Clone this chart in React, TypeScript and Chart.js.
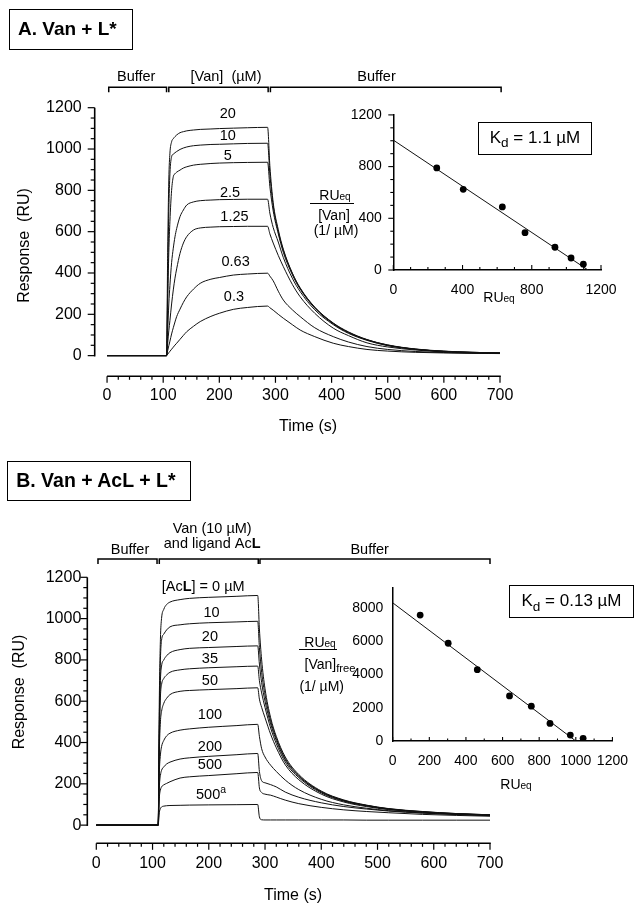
import React, { useEffect, useRef } from 'react';
import { Chart, registerables } from 'chart.js';

Chart.register(...registerables);

const FONT = '"Liberation Sans", Arial, Helvetica, sans-serif';
const INK = '#111111';

// ======================= Panel A : Van + L* =======================
const TIME_A = [0, 106, 108, 110, 112, 115, 118, 121, 124, 130, 136, 142, 154, 166, 185, 200, 225, 250, 286,
  290, 296, 305, 314, 330, 344, 370, 403, 430, 463, 500, 550, 600, 650, 700];
const VAN_LABELS = ['20', '10', '5', '2.5', '1.25', '0.63', '0.3'];
const RU_VAN_20 = [0, 0, 500, 850, 980, 1035, 1050, 1060, 1068, 1079, 1084, 1088, 1092, 1095, 1097, 1099, 1101, 1103, 1105,
  920, 740, 610, 515, 400, 328, 235, 158, 115, 78, 52, 32, 22, 16, 13];
const RU_VAN_10 = [0, 0, 350, 700, 880, 963, 975, 982, 988, 998, 1005, 1010, 1016, 1019, 1022, 1023, 1025, 1027, 1028,
  880, 725, 600, 510, 398, 325, 233, 156, 113, 77, 51, 31, 21, 16, 13];
const RU_VAN_5 = [0, 0, 250, 500, 650, 800, 866, 880, 888, 898, 908, 914, 922, 926, 930, 932, 934, 935, 936,
  820, 700, 590, 500, 392, 322, 230, 154, 111, 76, 50, 31, 21, 16, 13];
const RU_VAN_2_5 = [0, 0, 120, 250, 340, 450, 520, 575, 615, 673, 705, 729, 744, 750, 753, 755, 756, 757, 757,
  690, 620, 550, 475, 375, 310, 222, 150, 108, 74, 48, 30, 20, 15, 12];
const RU_VAN_1_25 = [0, 0, 60, 120, 170, 250, 318, 375, 420, 495, 545, 576, 608, 618, 622, 624, 625, 626, 626,
  590, 545, 485, 431, 345, 285, 205, 133, 97, 62, 42, 27, 18, 14, 12];
const RU_VAN_0_63 = [0, 0, 24, 48, 70, 105, 135, 163, 189, 225, 258, 285, 322, 350, 370, 378, 390, 395, 399,
  385, 362, 312, 269, 222, 189, 135, 92, 66, 44, 30, 20, 15, 12, 11];
const RU_VAN_0_3 = [0, 0, 7, 14, 21, 31, 41, 51, 60, 79, 98, 116, 142, 165, 190, 205, 224, 233, 240,
  232, 220, 200, 181, 150, 124, 92, 60, 44, 30, 22, 16, 13, 11, 10];
const LABEL_T_A = [215, 215, 215, 219, 227, 229, 226];
const LABEL_RU_A = [1169, 1063, 966, 789, 672, 455, 283];
const PHASE_START_A = [3, 110, 291];
const PHASE_END_A = [106, 287, 702];
const PHASE_LABEL_A = [['Buffer'], ['[Van]  (µM)'], ['Buffer']];
const PHASE_LABEL_T_A = [52, 212, 480];

// Scatchard inset A
const SCAT_A_RU = [251, 404, 630, 761, 934, 1027, 1098];
const SCAT_A_RATIO = [790, 624, 488, 289, 176, 93, 45];
const FIT_A_RU = [0, 1125];
const FIT_A_RATIO = [1005, 0];

// ======================= Panel B : Van + AcL + L* =======================
const TIME_B = [0, 110, 112, 114, 116, 120, 125, 131, 149, 166, 200, 250, 287,
  290, 294, 300, 310, 320, 336, 360, 400, 440, 480, 520, 580, 640, 700];
const ACL_LABELS = ['[Ac**L**] = 0 µM', '10', '20', '35', '50', '100', '200', '500', '500^{a}'];
const RU_ACL_0 = [0, 0, 600, 900, 1000, 1045, 1068, 1080, 1092, 1098, 1103, 1108, 1112,
  950, 800, 660, 520, 430, 330, 245, 165, 122, 97, 80, 66, 56, 50];
const RU_ACL_10 = [0, 0, 500, 800, 895, 925, 945, 960, 970, 975, 980, 984, 987,
  860, 740, 630, 505, 420, 322, 240, 162, 120, 96, 79, 65, 56, 50];
const RU_ACL_20 = [0, 0, 450, 700, 770, 800, 820, 835, 850, 856, 860, 865, 868,
  780, 690, 600, 490, 410, 315, 236, 160, 118, 95, 78, 64, 55, 49];
const RU_ACL_35 = [0, 0, 400, 620, 680, 710, 727, 740, 752, 757, 762, 767, 770,
  700, 640, 570, 470, 395, 305, 230, 156, 116, 93, 77, 63, 54, 49];
const RU_ACL_50 = [0, 0, 350, 500, 550, 590, 614, 632, 648, 652, 656, 661, 665,
  610, 570, 520, 440, 375, 292, 220, 150, 112, 90, 75, 62, 54, 48];
const RU_ACL_100 = [0, 0, 250, 340, 380, 410, 432, 445, 460, 466, 474, 482, 488,
  430, 370, 330, 290, 260, 218, 172, 125, 98, 82, 70, 59, 52, 47];
const RU_ACL_200 = [0, 0, 180, 240, 265, 282, 296, 305, 320, 326, 333, 341, 347,
  260, 215, 205, 196, 185, 160, 135, 108, 90, 78, 68, 58, 51, 46];
const RU_ACL_500 = [0, 0, 130, 170, 185, 195, 202, 210, 228, 234, 240, 249, 255,
  180, 158, 150, 145, 136, 121, 104, 86, 74, 66, 60, 52, 47, 43];
const RU_ACL_500A = [0, 0, 60, 80, 88, 92, 94, 95, 96, 97, 98, 99, 100,
  40, 26, 25, 25, 25, 25, 25, 25, 25, 24, 24, 24, 24, 24];
const LABEL_T_B = [190, 205, 202, 202, 202, 202, 202, 202, 204];
const LABEL_RU_B = [1152, 1026, 912, 804, 699, 533, 379, 291, 145];
const PHASE_START_B = [3, 112, 291];
const PHASE_END_B = [108, 288, 700];
const PHASE_LABEL_B = [['Buffer'], ['Van (10 µM)', 'and ligand Ac**L**'], ['Buffer']];
const PHASE_LABEL_T_B = [60, 206, 486];

// Scatchard inset B
const SCAT_B_RU = [150, 303, 462, 638, 757, 859, 970, 1040];
const SCAT_B_RATIO = [7564, 5869, 4281, 2704, 2090, 1057, 358, 161];
const FIT_B_RU = [0, 1000];
const FIT_B_RATIO = [8300, 0];

// tick values
const MAIN_X_TICKS = [0, 100, 200, 300, 400, 500, 600, 700];
const MAIN_Y_TICKS = [0, 200, 400, 600, 800, 1000, 1200];
const INSET_A_TICKS = [0, 400, 800, 1200];
const INSET_B_X_TICKS = [0, 200, 400, 600, 800, 1000, 1200];
const INSET_B_Y_TICKS = [0, 2000, 4000, 6000, 8000];

// ======================= helpers =======================
function steps(a: number, b: number, s: number) {
  const r: number[] = [];
  for (let v = a; v <= b + 1e-9; v += s) r.push(v);
  return r;
}
const plain = (v: any) => `${v}`;

type Part = { t: string; b?: boolean; sup?: boolean; sub?: boolean };
function parseRich(s: string): Part[] {
  const out: Part[] = [];
  const re = /\*\*(.+?)\*\*|\^\{(.+?)\}|_\{(.+?)\}/g;
  let last = 0;
  let m: RegExpExecArray | null;
  while ((m = re.exec(s))) {
    if (m.index > last) out.push({ t: s.slice(last, m.index) });
    if (m[1]) out.push({ t: m[1], b: true });
    else if (m[2]) out.push({ t: m[2], sup: true });
    else if (m[3]) out.push({ t: m[3], sub: true });
    last = re.lastIndex;
  }
  if (last < s.length) out.push({ t: s.slice(last) });
  return out;
}
function drawRich(ctx: CanvasRenderingContext2D, s: string, cx: number, cy: number, size: number) {
  const parts = parseRich(s);
  const fontOf = (p: Part) => `${p.b ? 'bold ' : ''}${p.sup || p.sub ? size * 0.72 : size}px ${FONT}`;
  let w = 0;
  for (const p of parts) { ctx.font = fontOf(p); w += ctx.measureText(p.t).width; }
  let x = cx - w / 2;
  ctx.textBaseline = 'middle';
  ctx.textAlign = 'left';
  ctx.fillStyle = '#000';
  for (const p of parts) {
    ctx.font = fontOf(p);
    const dy = p.sup ? -size * 0.32 : p.sub ? size * 0.25 : 0;
    ctx.fillText(p.t, x, cy + dy);
    x += ctx.measureText(p.t).width;
  }
}
function seg(ctx: CanvasRenderingContext2D, x0: number, y0: number, x1: number, y1: number) {
  ctx.beginPath(); ctx.moveTo(x0, y0); ctx.lineTo(x1, y1); ctx.stroke();
}

// ======================= main sensorgram chart =======================
function mainConfig(spec: any) {
  const drawDecor = (chart: any) => {
    const ctx: CanvasRenderingContext2D = chart.ctx;
    const xs = chart.scales.x, ys = chart.scales.y, ca = chart.chartArea;
    const X = (v: number) => xs.getPixelForValue(v);
    const Y = (v: number) => ys.getPixelForValue(v);
    ctx.save();
    ctx.strokeStyle = '#000';
    // axis lines (detached, as in the original figure)
    ctx.lineWidth = 1.6;
    seg(ctx, ca.left, Y(0) + 0.8, ca.left, Y(1200));
    seg(ctx, X(0), ca.bottom, X(700) + 0.8, ca.bottom);
    // ticks
    ctx.lineWidth = 1.2;
    for (const v of steps(0, 1200, 50)) {
      const major = v % 200 === 0;
      seg(ctx, ca.left, Y(v), ca.left - (major ? 7 : 4), Y(v));
    }
    for (const v of steps(0, 700, 20)) {
      const major = v % 100 === 0;
      seg(ctx, X(v), ca.bottom, X(v), ca.bottom + (major ? 6.5 : 3.5));
    }
    // phase brackets
    const by = ca.top - spec.bracketLift;
    ctx.lineWidth = 1.5;
    spec.phaseStart.forEach((s: number, i: number) => {
      const x0 = X(s), x1 = X(spec.phaseEnd[i]);
      ctx.beginPath();
      ctx.moveTo(x0, by + 5); ctx.lineTo(x0, by); ctx.lineTo(x1, by); ctx.lineTo(x1, by + 5);
      ctx.stroke();
      const lines: string[] = spec.phaseLabel[i];
      lines.forEach((ln: string, j: number) => {
        const lift = spec.phaseLift[i] + (lines.length - 1 - j) * 15;
        drawRich(ctx, ln, X(spec.phaseLabelT[i]), by - lift, 14.5);
      });
    });
    // curve labels
    spec.labels.forEach((lab: string, i: number) => {
      drawRich(ctx, lab, X(spec.labelT[i]), Y(spec.labelRU[i]), 14.5);
    });
    // axis titles
    ctx.fillStyle = '#000';
    ctx.font = `16px ${FONT}`;
    ctx.textAlign = 'center';
    ctx.textBaseline = 'middle';
    ctx.fillText('Time (s)', spec.xTitle[0], spec.xTitle[1]);
    ctx.save();
    ctx.translate(spec.yTitle[0], spec.yTitle[1]);
    ctx.rotate(-Math.PI / 2);
    ctx.fillText('Response  (RU)', 0, 0);
    ctx.restore();
    ctx.restore();
  };
  return {
    type: 'line',
    data: {
      datasets: spec.series.map((vals: number[]) => ({
        data: vals.map((v, i) => ({ x: spec.time[i], y: v })),
        borderColor: INK,
        borderWidth: 1,
        pointRadius: 0,
        fill: false,
        cubicInterpolationMode: 'monotone',
      })),
    },
    options: {
      responsive: false,
      maintainAspectRatio: false,
      animation: false,
      events: [],
      layout: { padding: spec.padding },
      plugins: { legend: { display: false }, tooltip: { enabled: false } },
      scales: {
        x: {
          type: 'linear',
          min: spec.xMin,
          max: 700,
          afterBuildTicks: (s: any) => { s.ticks = MAIN_X_TICKS.map((v) => ({ value: v })); },
          afterFit: (s: any) => { s.height = 40; },
          grid: { display: false, drawTicks: false },
          border: { display: false },
          ticks: { callback: plain, padding: spec.xTickPad, autoSkip: false, maxRotation: 0, color: '#000', font: { family: FONT, size: 16 } },
        },
        y: {
          type: 'linear',
          min: spec.yMin,
          max: 1200,
          afterBuildTicks: (s: any) => { s.ticks = MAIN_Y_TICKS.map((v) => ({ value: v })); },
          afterFit: (s: any) => { s.width = spec.yAxisWidth; },
          grid: { display: false, drawTicks: false },
          border: { display: false },
          ticks: { callback: plain, padding: spec.yTickPad, autoSkip: false, color: '#000', font: { family: FONT, size: 16 } },
        },
      },
    },
    plugins: [{ id: 'decor', afterDraw: drawDecor }],
  };
}

// ======================= Scatchard inset chart =======================
function insetConfig(spec: any) {
  const drawTicks = (chart: any) => {
    const ctx: CanvasRenderingContext2D = chart.ctx;
    const xs = chart.scales.x, ys = chart.scales.y, ca = chart.chartArea;
    ctx.save();
    ctx.strokeStyle = '#000';
    ctx.lineWidth = 1.1;
    for (const v of steps(0, spec.xMax, spec.xMinor)) {
      const major = spec.xTicks.includes(v);
      const x = xs.getPixelForValue(v);
      seg(ctx, x, ca.bottom, x, ca.bottom - (major ? spec.xMajorLen : spec.xMinorLen));
    }
    if (spec.yMinor) {
      for (const v of steps(0, spec.yMax, spec.yMinor)) {
        const major = spec.yTicks.includes(v);
        const y = ys.getPixelForValue(v);
        seg(ctx, ca.left, y, ca.left - (major ? 5 : 3), y);
      }
    }
    ctx.restore();
  };
  return {
    type: 'scatter',
    data: {
      datasets: [
        {
          type: 'scatter',
          data: spec.ru.map((v: number, i: number) => ({ x: v, y: spec.ratio[i] })),
          pointRadius: 3.4,
          pointBackgroundColor: '#000',
          pointBorderWidth: 0,
          order: 0,
        },
        {
          type: 'line',
          data: spec.fitRu.map((v: number, i: number) => ({ x: v, y: spec.fitRatio[i] })),
          borderColor: INK,
          borderWidth: 1,
          pointRadius: 0,
          fill: false,
          order: 1,
        },
      ],
    },
    options: {
      responsive: false,
      maintainAspectRatio: false,
      animation: false,
      events: [],
      layout: { padding: spec.padding },
      plugins: { legend: { display: false }, tooltip: { enabled: false } },
      scales: {
        x: {
          type: 'linear',
          min: 0,
          max: spec.xMax,
          afterBuildTicks: (s: any) => { s.ticks = spec.xTicks.map((v: number) => ({ value: v })); },
          afterFit: (s: any) => { s.height = 30; },
          grid: { display: false, drawTicks: false },
          border: { display: true, color: '#000', width: 1.5 },
          ticks: { callback: plain, padding: spec.xTickPad, autoSkip: false, maxRotation: 0, color: '#000', font: { family: FONT, size: 14 } },
        },
        y: {
          type: 'linear',
          min: 0,
          max: spec.yMax,
          afterBuildTicks: (s: any) => { s.ticks = spec.yTicks.map((v: number) => ({ value: v })); },
          afterFit: (s: any) => { s.width = 50; },
          grid: { display: false, drawTicks: false },
          border: { display: true, color: '#000', width: 1.5 },
          ticks: { callback: plain, padding: spec.yTickPad, autoSkip: false, color: '#000', font: { family: FONT, size: 14 } },
        },
      },
    },
    plugins: [{ id: 'insetTicks', afterDraw: drawTicks }],
  };
}

// ======================= DOM text helpers =======================
const CT = ({ x, y, size = 14, children }: any) => (
  <div style={{
    position: 'absolute', left: x, top: y, transform: 'translate(-50%, -50%)', fontSize: size,
    lineHeight: 1, whiteSpace: 'pre', fontFamily: FONT, color: '#000',
  }}>{children}</div>
);
const Small = ({ children }: any) => (
  <span style={{ fontSize: '0.72em', verticalAlign: '-0.05em' }}>{children}</span>
);
const Sub = ({ children }: any) => (
  <span style={{ fontSize: '0.8em', position: 'relative', top: '0.3em' }}>{children}</span>
);

export default function App() {
  const aMain = useRef<HTMLCanvasElement>(null);
  const aInset = useRef<HTMLCanvasElement>(null);
  const bMain = useRef<HTMLCanvasElement>(null);
  const bInset = useRef<HTMLCanvasElement>(null);

  useEffect(() => {
    const charts: Chart[] = [];
    charts.push(new Chart(aMain.current as HTMLCanvasElement, mainConfig({
      time: TIME_A,
      series: [RU_VAN_20, RU_VAN_10, RU_VAN_5, RU_VAN_2_5, RU_VAN_1_25, RU_VAN_0_63, RU_VAN_0_3],
      labels: VAN_LABELS, labelT: LABEL_T_A, labelRU: LABEL_RU_A,
      phaseStart: PHASE_START_A, phaseEnd: PHASE_END_A, phaseLabel: PHASE_LABEL_A, phaseLabelT: PHASE_LABEL_T_A,
      phaseLift: [10, 10, 10], bracketLift: 20.4,
      padding: { left: 14.7, right: 140, top: 107.7, bottom: 33.7 },
      yAxisWidth: 80, xMin: -22, yMin: -100, yTickPad: 13, xTickPad: 10,
      yTitle: [25, 245.5], xTitle: [308, 427],
    }) as any));
    charts.push(new Chart(aInset.current as HTMLCanvasElement, insetConfig({
      ru: SCAT_A_RU, ratio: SCAT_A_RATIO, fitRu: FIT_A_RU, fitRatio: FIT_A_RATIO,
      xMax: 1200, yMax: 1200, xTicks: INSET_A_TICKS, yTicks: INSET_A_TICKS,
      xMinor: 100, yMinor: 100, xMajorLen: 5, xMinorLen: 3,
      padding: { left: 43.3, right: 29, top: 16, bottom: 10 }, xTickPad: 12, yTickPad: 11.5,
    }) as any));
    charts.push(new Chart(bMain.current as HTMLCanvasElement, mainConfig({
      time: TIME_B,
      series: [RU_ACL_0, RU_ACL_10, RU_ACL_20, RU_ACL_35, RU_ACL_50, RU_ACL_100, RU_ACL_200, RU_ACL_500, RU_ACL_500A],
      labels: ACL_LABELS, labelT: LABEL_T_B, labelRU: LABEL_RU_B,
      phaseStart: PHASE_START_B, phaseEnd: PHASE_END_B, phaseLabel: PHASE_LABEL_B, phaseLabelT: PHASE_LABEL_T_B,
      phaseLift: [9, 14.7, 9.5], bracketLift: 18.3,
      padding: { left: 12.3, right: 150, top: 127.3, bottom: 20.7 },
      yAxisWidth: 75, xMin: -16, yMin: -88, yTickPad: 6, xTickPad: 11,
      yTitle: [20, 242], xTitle: [293, 445.7],
    }) as any));
    charts.push(new Chart(bInset.current as HTMLCanvasElement, insetConfig({
      ru: SCAT_B_RU, ratio: SCAT_B_RATIO, fitRu: FIT_B_RU, fitRatio: FIT_B_RATIO,
      xMax: 1200, yMax: 9200, xTicks: INSET_B_X_TICKS, yTicks: INSET_B_Y_TICKS,
      xMinor: 100, yMinor: 0, xMajorLen: 4, xMinorLen: 2.5,
      padding: { left: 42.7, right: 20.5, top: 16.7, bottom: 24 }, xTickPad: 12, yTickPad: 9.4,
    }) as any));
    return () => { charts.forEach((c) => c.destroy()); };
  }, []);

  const box: React.CSSProperties = {
    position: 'absolute', boxSizing: 'border-box', border: '1.5px solid #000', fontFamily: FONT,
    whiteSpace: 'nowrap', color: '#000',
  };
  const kdBox: React.CSSProperties = {
    ...box, display: 'flex', alignItems: 'center', justifyContent: 'center', fontSize: 17,
  };

  return (
    <div style={{ position: 'absolute', left: 0, top: 0, width: 640, height: 904, background: '#fff', overflow: 'hidden' }}>
      <canvas ref={aMain} width={640} height={450} style={{ position: 'absolute', left: 0, top: 0, width: 640, height: 450 }} />
      <canvas ref={bMain} width={640} height={454} style={{ position: 'absolute', left: 0, top: 450, width: 640, height: 454 }} />
      <canvas ref={aInset} width={330} height={215} style={{ position: 'absolute', left: 300, top: 95, width: 330, height: 215 }} />
      <canvas ref={bInset} width={340} height={225} style={{ position: 'absolute', left: 300, top: 570, width: 340, height: 225 }} />

      {/* panel titles */}
      <div style={{ ...box, left: 9, top: 9, width: 124, height: 41, fontWeight: 700, fontSize: 19, lineHeight: '38px', paddingLeft: 8 }}>
        A. Van + L*
      </div>
      <div style={{ ...box, left: 6.7, top: 460.7, width: 184.3, height: 40.3, fontWeight: 700, fontSize: 19.5, lineHeight: '37px', paddingLeft: 8.5 }}>
        B. Van + AcL + L*
      </div>

      {/* Kd boxes */}
      <div style={{ ...kdBox, left: 478.3, top: 121.7, width: 113.4, height: 33.3 }}>
        <span>K<Sub>d</Sub> = 1.1 µM</span>
      </div>
      <div style={{ ...kdBox, left: 509, top: 585.3, width: 125, height: 32.4 }}>
        <span>K<Sub>d</Sub> = 0.13 µM</span>
      </div>

      {/* inset A axis titles */}
      <CT x={335} y={195}>RU<Small>eq</Small></CT>
      <div style={{ position: 'absolute', left: 310, top: 202.5, width: 44, height: 0, borderTop: '1.2px solid #000' }} />
      <CT x={334} y={215}>[Van]</CT>
      <CT x={336} y={230}>(1/ µM)</CT>
      <CT x={499} y={297}>RU<Small>eq</Small></CT>

      {/* inset B axis titles */}
      <CT x={320} y={642}>RU<Small>eq</Small></CT>
      <div style={{ position: 'absolute', left: 299.3, top: 648.5, width: 38, height: 0, borderTop: '1.2px solid #000' }} />
      <CT x={330} y={664}>[Van]<Sub>free</Sub></CT>
      <CT x={321.7} y={686}>(1/ µM)</CT>
      <CT x={516} y={784}>RU<Small>eq</Small></CT>
    </div>
  );
}
